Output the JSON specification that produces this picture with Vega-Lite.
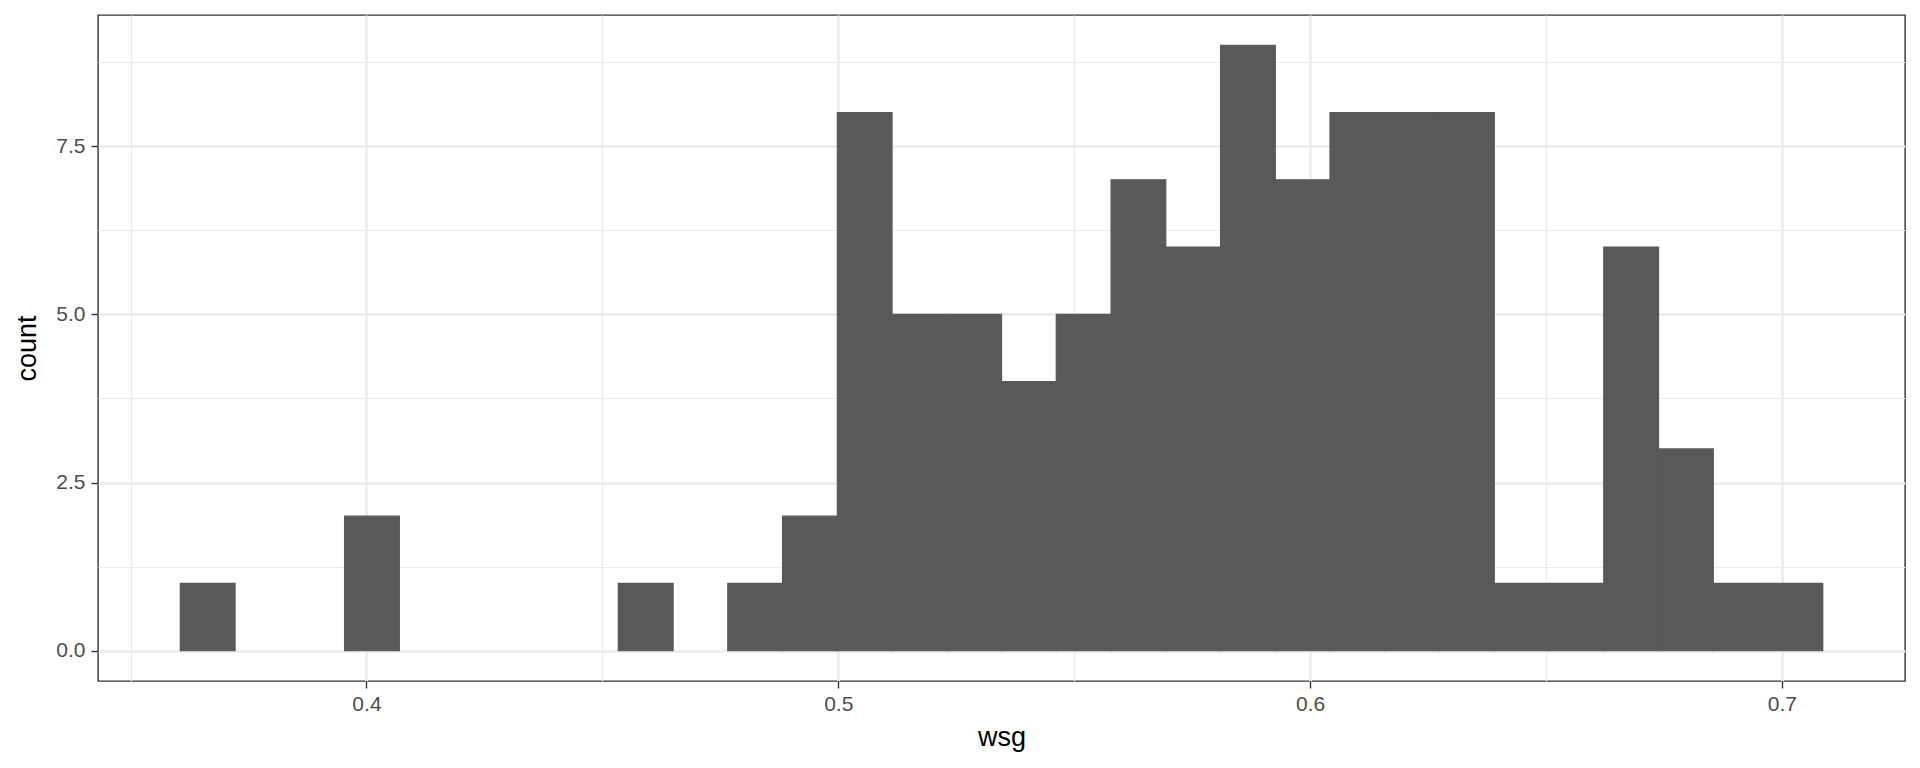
{
  "$schema": "https://vega.github.io/schema/vega-lite/v6.json",
  "width": 1807,
  "height": 666,
  "autosize": {"type": "none"},
  "padding": {"left": 98, "top": 15, "right": 15, "bottom": 87},
  "background": "white",
  "config": {
    "view": {"stroke": "#333333", "strokeWidth": 1.4},
    "font": "Liberation Sans",
    "axis": {
      "domain": false,
      "tickColor": "#333333",
      "tickWidth": 1.4,
      "tickSize": 7,
      "labelColor": "#4D4D4D",
      "labelFont": "Liberation Sans",
      "labelFontSize": 21,
      "titleFont": "Liberation Sans",
      "titleFontSize": 27,
      "titleFontWeight": "normal",
      "titleColor": "#000000",
      "gridColor": "#EBEBEB"
    }
  },
  "data": {
    "values": [
      {"bin_start": 0.36055, "bin_end": 0.37215, "count": 1},
      {"bin_start": 0.37215, "bin_end": 0.38376, "count": 0},
      {"bin_start": 0.38376, "bin_end": 0.39536, "count": 0},
      {"bin_start": 0.39536, "bin_end": 0.40697, "count": 2},
      {"bin_start": 0.40697, "bin_end": 0.41857, "count": 0},
      {"bin_start": 0.41857, "bin_end": 0.43017, "count": 0},
      {"bin_start": 0.43017, "bin_end": 0.44178, "count": 0},
      {"bin_start": 0.44178, "bin_end": 0.45338, "count": 0},
      {"bin_start": 0.45338, "bin_end": 0.46499, "count": 1},
      {"bin_start": 0.46499, "bin_end": 0.47659, "count": 0},
      {"bin_start": 0.47659, "bin_end": 0.48819, "count": 1},
      {"bin_start": 0.48819, "bin_end": 0.49980, "count": 2},
      {"bin_start": 0.49980, "bin_end": 0.51140, "count": 8},
      {"bin_start": 0.51140, "bin_end": 0.52301, "count": 5},
      {"bin_start": 0.52301, "bin_end": 0.53461, "count": 5},
      {"bin_start": 0.53461, "bin_end": 0.54621, "count": 4},
      {"bin_start": 0.54621, "bin_end": 0.55782, "count": 5},
      {"bin_start": 0.55782, "bin_end": 0.56942, "count": 7},
      {"bin_start": 0.56942, "bin_end": 0.58103, "count": 6},
      {"bin_start": 0.58103, "bin_end": 0.59263, "count": 9},
      {"bin_start": 0.59263, "bin_end": 0.60423, "count": 7},
      {"bin_start": 0.60423, "bin_end": 0.61584, "count": 8},
      {"bin_start": 0.61584, "bin_end": 0.62744, "count": 8},
      {"bin_start": 0.62744, "bin_end": 0.63905, "count": 8},
      {"bin_start": 0.63905, "bin_end": 0.65065, "count": 1},
      {"bin_start": 0.65065, "bin_end": 0.66225, "count": 1},
      {"bin_start": 0.66225, "bin_end": 0.67386, "count": 6},
      {"bin_start": 0.67386, "bin_end": 0.68546, "count": 3},
      {"bin_start": 0.68546, "bin_end": 0.69707, "count": 1},
      {"bin_start": 0.69707, "bin_end": 0.70867, "count": 1}
    ]
  },
  "mark": {"type": "rect", "fill": "#595959", "stroke": "#595959", "strokeWidth": 1.2},
  "encoding": {
    "x": {
      "field": "bin_start",
      "type": "quantitative",
      "title": "wsg",
      "scale": {"domain": [0.3431, 0.7261], "nice": false, "zero": false},
      "axis": {
        "values": [0.35, 0.4, 0.45, 0.5, 0.55, 0.6, 0.65, 0.7],
        "labelExpr": "round(datum.value*100) % 10 == 0 ? format(datum.value, '.1f') : ''",
        "labelPadding": 5,
        "titlePadding": 10,
        "grid": true,
        "gridWidth": {"condition": {"test": "round(datum.value*100) % 10 == 0", "value": 2.4}, "value": 1.2},
        "tickOpacity": {"condition": {"test": "round(datum.value*100) % 10 == 0", "value": 1}, "value": 0}
      }
    },
    "x2": {"field": "bin_end"},
    "y": {
      "field": "count",
      "type": "quantitative",
      "title": "count",
      "scale": {"domain": [-0.45, 9.45], "nice": false, "zero": false},
      "axis": {
        "values": [0, 1.25, 2.5, 3.75, 5, 6.25, 7.5, 8.75],
        "labelExpr": "round(datum.value*100) % 250 == 0 ? format(datum.value, '.1f') : ''",
        "labelPadding": 6,
        "titlePadding": 14,
        "grid": true,
        "gridWidth": {"condition": {"test": "round(datum.value*100) % 250 == 0", "value": 2.4}, "value": 1.2},
        "tickOpacity": {"condition": {"test": "round(datum.value*100) % 250 == 0", "value": 1}, "value": 0}
      }
    },
    "y2": {"datum": 0},
    "strokeOpacity": {"condition": {"test": "datum.count == 0", "value": 0}, "value": 1}
  }
}
